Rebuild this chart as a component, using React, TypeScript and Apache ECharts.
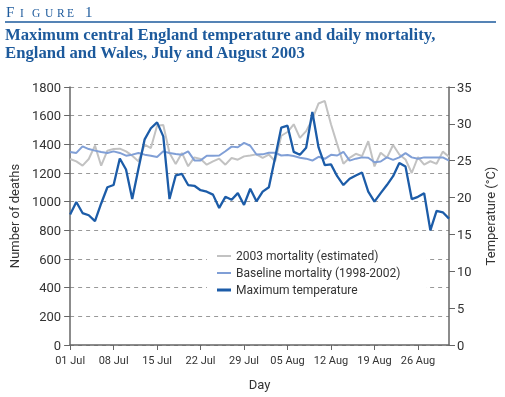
import React, { useEffect, useRef } from "react";
import * as echarts from "echarts";

const days = [
  "01 Jul", "02 Jul", "03 Jul", "04 Jul", "05 Jul", "06 Jul", "07 Jul", "08 Jul", "09 Jul", "10 Jul",
  "11 Jul", "12 Jul", "13 Jul", "14 Jul", "15 Jul", "16 Jul", "17 Jul", "18 Jul", "19 Jul", "20 Jul",
  "21 Jul", "22 Jul", "23 Jul", "24 Jul", "25 Jul", "26 Jul", "27 Jul", "28 Jul", "29 Jul", "30 Jul",
  "31 Jul", "01 Aug", "02 Aug", "03 Aug", "04 Aug", "05 Aug", "06 Aug", "07 Aug", "08 Aug", "09 Aug",
  "10 Aug", "11 Aug", "12 Aug", "13 Aug", "14 Aug", "15 Aug", "16 Aug", "17 Aug", "18 Aug", "19 Aug",
  "20 Aug", "21 Aug", "22 Aug", "23 Aug", "24 Aug", "25 Aug", "26 Aug", "27 Aug", "28 Aug", "29 Aug",
  "30 Aug", "31 Aug",
];

const mortality2003 = [
  1298, 1281, 1251, 1298, 1391, 1251, 1356, 1367, 1370, 1351,
  1321, 1281, 1398, 1374, 1530, 1535, 1340, 1263, 1340, 1247,
  1309, 1298, 1258, 1281, 1300, 1258, 1305, 1293, 1316, 1322,
  1330, 1306, 1329, 1282, 1460, 1486, 1540, 1445, 1492, 1576,
  1685, 1703, 1540, 1400, 1265, 1306, 1334, 1318, 1422, 1246,
  1341, 1306, 1395, 1329, 1294, 1200, 1310, 1259, 1282, 1264,
  1349, 1314,
];

const baselineMortality = [
  1347, 1340, 1386, 1367, 1356, 1347, 1340, 1351, 1340, 1321,
  1328, 1340, 1328, 1321, 1312, 1351, 1340, 1333, 1328, 1351,
  1288, 1288, 1320, 1320, 1322, 1352, 1384, 1380, 1410, 1390,
  1329, 1330, 1341, 1341, 1322, 1325, 1318, 1307, 1300, 1287,
  1313, 1299, 1327, 1322, 1348, 1286, 1300, 1309, 1306, 1275,
  1280, 1309, 1292, 1309, 1339, 1309, 1300, 1309, 1309, 1309,
  1309, 1287,
];

const maxTemperature = [
  17.7, 19.4, 17.9, 17.6, 16.8, 19.2, 21.4, 21.7, 25.3, 23.8,
  19.8, 23.9, 27.9, 29.4, 30.2, 28.3, 19.8, 23.0, 23.2, 21.7,
  21.6, 21.0, 20.8, 20.4, 18.6, 20.1, 19.7, 20.6, 19.0, 21.2,
  19.5, 20.8, 21.4, 25.4, 29.5, 29.75, 26.2, 25.8, 26.75, 31.6,
  26.8, 24.4, 24.5, 22.9, 21.7, 22.55, 23.0, 23.4, 20.8, 19.45,
  20.6, 21.7, 22.9, 24.7, 24.2, 19.8, 20.1, 20.6, 15.55, 18.2,
  18.0, 17.15,
];

const seriesNames = [
  "2003 mortality (estimated)",
  "Baseline mortality (1998-2002)",
  "Maximum temperature",
];

const COLORS = ["#c2c2c2", "#809fd6", "#1c5ca8"];
const BLUE = "#1d5a9c";
const AXIS = "#666";
const LABEL = "#333";
const FONT = "Roboto, sans-serif";

export default function App() {
  const ref = useRef<HTMLDivElement>(null);
  useEffect(() => {
    const chart = echarts.init(ref.current!, null, { renderer: "svg" });
    const small = { fontFamily: "Liberation Serif", fontSize: 11.5, fill: BLUE };
    const big = { fontFamily: "Liberation Serif", fontSize: 15, fill: BLUE };
    const letters = [
      { t: "F", x: 6, s: big },
      { t: "I", x: 20, s: small },
      { t: "G", x: 32, s: small },
      { t: "U", x: 45, s: small },
      { t: "R", x: 57, s: small },
      { t: "E", x: 67, s: small },
      { t: "1", x: 85, s: big },
    ];
    const icons = [
      "path://M0,0L14,0L14,2L0,2Z",
      "path://M0,0L14,0L14,2L0,2Z",
      "path://M0,0L14,0L14,3L0,3Z",
    ];
    chart.setOption({
      animation: false,
      graphic: [
        ...letters.map((l) => ({
          type: "text",
          left: l.x,
          top: l.s === big ? 4 : 7,
          style: { ...l.s, text: l.t },
        })),
        {
          type: "line",
          shape: { x1: 5, y1: 22, x2: 496, y2: 22 },
          style: { stroke: BLUE, lineWidth: 1.5 },
        },
        {
          type: "text",
          left: 5,
          top: 25,
          style: {
            text: "Maximum central England temperature and daily mortality,\nEngland and Wales, July and August 2003",
            fontFamily: "Liberation Serif",
            fontWeight: "bold",
            fontSize: 16.7,
            lineHeight: 18,
            fill: BLUE,
          },
        },
      ],
      grid: { left: 63, right: 52, top: 87, bottom: 52 },
      legend: {
        orient: "vertical",
        left: 207,
        top: 246,
        data: seriesNames.map((n, i) => ({
          name: n,
          icon: icons[i],
          itemStyle: { color: COLORS[i] },
        })),
        backgroundColor: "#fff",
        padding: [4, 26, 6, 10],
        itemWidth: 14,
        itemHeight: 14,
        itemGap: 5,
        textStyle: { fontFamily: FONT, fontSize: 12, color: LABEL },
      },
      xAxis: {
        type: "category",
        data: days,
        boundaryGap: false,
        name: "Day",
        nameLocation: "middle",
        nameGap: 33,
        nameTextStyle: { fontFamily: FONT, fontSize: 13, color: LABEL },
        axisLine: { lineStyle: { color: AXIS, width: 1.5 } },
        axisTick: { interval: 6, length: 5, lineStyle: { color: AXIS } },
        axisLabel: { interval: 6, fontFamily: FONT, fontSize: 11, color: LABEL, margin: 10 },
        splitLine: { show: false },
      },
      yAxis: [
        {
          type: "value",
          min: 0,
          max: 1800,
          interval: 200,
          name: "Number of deaths",
          nameLocation: "middle",
          nameGap: 46,
          nameTextStyle: { fontFamily: FONT, fontSize: 13, color: LABEL },
          axisLine: { show: true, lineStyle: { color: AXIS, width: 1.5 } },
          axisTick: { show: true, length: 6, lineStyle: { color: AXIS } },
          axisLabel: {
            fontFamily: FONT,
            fontSize: 13,
            color: LABEL,
            margin: 9,
            formatter: (v: number) => String(v),
          },
          splitLine: { show: true, lineStyle: { color: "#999", type: [4, 4], width: 1 } },
        },
        {
          type: "value",
          min: 0,
          max: 35,
          interval: 5,
          name: "Temperature (°C)",
          nameLocation: "middle",
          nameGap: 35,
          nameRotate: 90,
          nameTextStyle: { fontFamily: FONT, fontSize: 13, color: LABEL },
          axisLine: { show: true, lineStyle: { color: AXIS, width: 1.5 } },
          axisTick: { show: true, length: 6, lineStyle: { color: AXIS } },
          axisLabel: { fontFamily: FONT, fontSize: 13, color: LABEL, margin: 8 },
          splitLine: { show: false },
        },
      ],
      series: [
        {
          name: seriesNames[0],
          type: "line",
          data: mortality2003,
          symbol: "none",
          lineStyle: { color: COLORS[0], width: 2 },
          itemStyle: { color: COLORS[0] },
        },
        {
          name: seriesNames[1],
          type: "line",
          data: baselineMortality,
          symbol: "none",
          lineStyle: { color: COLORS[1], width: 2 },
          itemStyle: { color: COLORS[1] },
        },
        {
          name: seriesNames[2],
          type: "line",
          yAxisIndex: 1,
          data: maxTemperature,
          symbol: "none",
          lineStyle: { color: COLORS[2], width: 2.3 },
          itemStyle: { color: COLORS[2] },
        },
      ],
    });
    return () => chart.dispose();
  }, []);
  return (
    <div
      ref={ref}
      style={{ position: "fixed", left: 0, top: 0, width: 505, height: 397 }}
    />
  );
}
